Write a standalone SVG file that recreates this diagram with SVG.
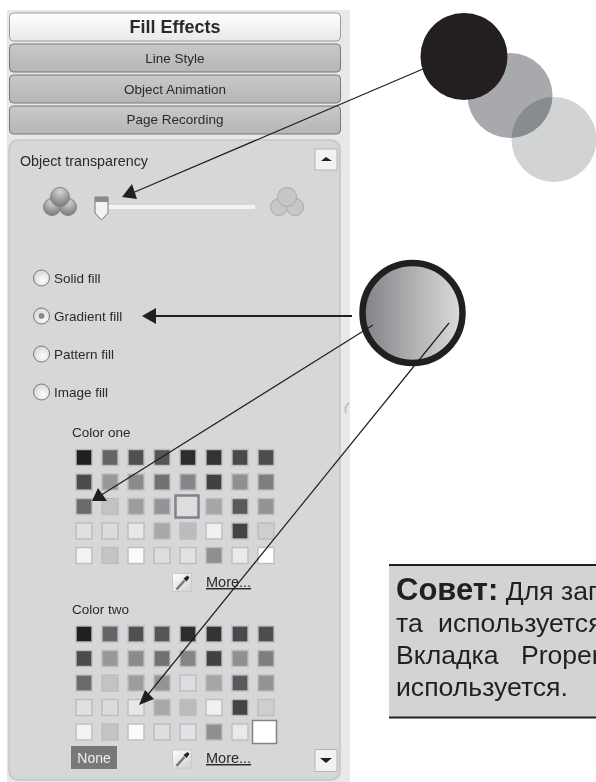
<svg xmlns="http://www.w3.org/2000/svg" width="596" height="782" viewBox="0 0 596 782">
<style>
.ui{font-family:"Liberation Sans",Arial,sans-serif;fill:#2a2a2a;font-size:13.500px}
.tab{text-anchor:middle}
.note{font-family:"Liberation Sans",Arial,sans-serif;fill:#231f20;font-size:26.600px}
.ln{stroke:#231f20;stroke-width:1.200;fill:none}
.radio{fill:url(#rg);stroke:#77787a;stroke-width:1}
.sw{stroke-width:1.400}
.hd{fill:#231f20}
.more{text-decoration:underline;font-size:14.500px}
</style>
<defs>
<linearGradient id="wb" x1="0" y1="0" x2="0" y2="1"><stop offset="0" stop-color="#fff"/><stop offset="1" stop-color="#e8e8e8"/></linearGradient>
<linearGradient id="tg" x1="0" y1="0" x2="0" y2="1"><stop offset="0" stop-color="#c8c9cb"/><stop offset="1" stop-color="#b4b5b7"/></linearGradient>
<linearGradient id="cg" x1="0" y1="0" x2="1" y2="0"><stop offset="0" stop-color="#808285"/><stop offset="1" stop-color="#dcddde"/></linearGradient>
<linearGradient id="pk" x1="0" y1="0" x2="1" y2="1"><stop offset="0" stop-color="#fff"/><stop offset="1" stop-color="#cfd0d2"/></linearGradient>
<radialGradient id="rg" cx=".6" cy=".65" r=".7"><stop offset="0" stop-color="#fff"/><stop offset="1" stop-color="#d2d3d5"/></radialGradient>
<radialGradient id="ball" cx=".5" cy=".2" r=".8"><stop offset="0" stop-color="#d5d6d8"/><stop offset="1" stop-color="#77787a"/></radialGradient>
<g id="ico"><circle cx="-8" cy="6" r="8.500"/><circle cx="8" cy="6" r="8.500"/><circle cx="0" cy="-4" r="9.500"/></g>
<g id="dropper"><rect x="0" y="0" width="19" height="18" fill="url(#pk)" stroke="#c8c9cb"/><path d="M4 16L12 7" stroke="#77787a" stroke-width="2.500"/><path d="M11 5L14 8L17 4L15 2z" fill="#231f20"/></g>
</defs>
<rect width="596" height="782" fill="#fff"/>
<g id="panel">
<rect x="7" y="10" width="343" height="772" fill="#e8e8e9"/>
<rect x="9" y="140" width="331" height="640" rx="9" fill="#d6d7d9" stroke="#c4c5c7" stroke-width="1.500"/>
<path d="M349 403A8 8 0 0 0 346 413" fill="none" stroke="#c0c1c3" stroke-width="2"/>
</g>
<g id="tab-fill"><rect x="9.500" y="13" width="331" height="28" rx="4" fill="url(#wb)" stroke="#9a9b9d"/><text class="ui tab" x="175" y="33" style="font-weight:700;font-size:18px">Fill Effects</text></g>
<g id="tab-line"><rect x="9.500" y="44" width="331" height="28" rx="4" fill="url(#tg)" stroke="#77787a"/><text class="ui tab" x="175" y="63">Line Style</text></g>
<g id="tab-anim"><rect x="9.500" y="75" width="331" height="28" rx="4" fill="url(#tg)" stroke="#77787a"/><text class="ui tab" x="175" y="94">Object Animation</text></g>
<g id="tab-page"><rect x="9.500" y="106" width="331" height="28" rx="4" fill="url(#tg)" stroke="#77787a"/><text class="ui tab" x="175" y="124">Page Recording</text></g>
<g id="transparency">
<text class="ui" x="20" y="166" style="font-size:14.300px">Object transparency</text>
<rect x="315" y="149" width="22" height="21" fill="#f2f2f2" stroke="#b5b6b8"/><path d="M321 161L326 157L332 161z" fill="#231f20"/>
<use href="#ico" x="60" y="201" fill="url(#ball)" stroke="#808285"/>
<use href="#ico" x="287" y="201" fill="#c6c7c9" stroke="#a8a9ab"/>
<rect x="104" y="205" width="151" height="4" fill="#f4f4f4"/>
<path d="M95 197H108V213L101.500 220L95 213z" fill="#f2f2f2" stroke="#77787a"/><rect x="95" y="197" width="13" height="5" fill="#8a8b8d"/>
</g>
<g id="radio-solid"><circle class="radio" cx="41.500" cy="278" r="8"/><text class="ui" x="54" y="283">Solid fill</text></g>
<g id="radio-gradient"><circle class="radio" cx="41.500" cy="316" r="8"/><circle cx="41.500" cy="316" r="3" fill="#8a8b8d"/><text class="ui" x="54" y="321">Gradient fill</text></g>
<g id="radio-pattern"><circle class="radio" cx="41.500" cy="354" r="8"/><text class="ui" x="54" y="359">Pattern fill</text></g>
<g id="radio-image"><circle class="radio" cx="41.500" cy="392" r="8"/><text class="ui" x="54" y="397">Image fill</text></g>
<g id="color-one">
<text class="ui" x="72" y="437" style="font-size:13.500px">Color one</text>
<g class="sw" stroke="#bcbdbf">
<rect x="76" y="449.500" width="16" height="16" fill="#231f20"/><rect x="102" y="449.500" width="16" height="16" fill="#646567"/><rect x="128" y="449.500" width="16" height="16" fill="#4f5052"/><rect x="154" y="449.500" width="16" height="16" fill="#545557"/><rect x="180" y="449.500" width="16" height="16" fill="#2e2c2d"/><rect x="206" y="449.500" width="16" height="16" fill="#333"/><rect x="232" y="449.500" width="16" height="16" fill="#48494b"/><rect x="258" y="449.500" width="16" height="16" fill="#4c4d4f"/>
<rect x="76" y="474" width="16" height="16" fill="#4a4b4d"/><rect x="102" y="474" width="16" height="16" fill="#97989a"/><rect x="128" y="474" width="16" height="16" fill="#8a8b8d"/><rect x="154" y="474" width="16" height="16" fill="#707173"/><rect x="180" y="474" width="16" height="16" fill="#858688"/><rect x="206" y="474" width="16" height="16" fill="#404142"/><rect x="232" y="474" width="16" height="16" fill="#8f9092"/><rect x="258" y="474" width="16" height="16" fill="#7d7e80"/>
<rect x="76" y="498.500" width="16" height="16" fill="#6a6b6d"/><rect x="102" y="498.500" width="16" height="16" fill="#c2c3c5"/><rect x="128" y="498.500" width="16" height="16" fill="#9c9d9f"/><rect x="154" y="498.500" width="16" height="16" fill="#939496"/><rect x="232" y="498.500" width="16" height="16" fill="#58595b"/><rect x="206" y="498.500" width="16" height="16" fill="#a4a6a8"/><rect x="258" y="498.500" width="16" height="16" fill="#929395"/>
<rect x="76" y="523" width="16" height="16" fill="#dfe0e1"/><rect x="102" y="523" width="16" height="16" fill="#dadbdc"/><rect x="128" y="523" width="16" height="16" fill="#e6e7e8"/><rect x="154" y="523" width="16" height="16" fill="#a7a8aa"/><rect x="180" y="523" width="16" height="16" fill="#bbbcbe"/><rect x="206" y="523" width="16" height="16" fill="#eff0f0"/><rect x="232" y="523" width="16" height="16" fill="#434445"/><rect x="258" y="523" width="16" height="16" fill="#cdcecf"/>
<rect x="76" y="547.500" width="16" height="16" fill="#f1f2f2"/><rect x="102" y="547.500" width="16" height="16" fill="#c3c4c6"/><rect x="128" y="547.500" width="16" height="16" fill="#fafafa"/><rect x="154" y="547.500" width="16" height="16" fill="#dcddde"/><rect x="180" y="547.500" width="16" height="16" fill="#e0e1e3"/><rect x="206" y="547.500" width="16" height="16" fill="#8e8f91"/><rect x="232" y="547.500" width="16" height="16" fill="#e9e9ea"/><rect x="258" y="547.500" width="16" height="16" fill="#fff"/>
</g>
<rect x="175.500" y="495.500" width="23" height="22" fill="#dcddde" stroke="#808285" stroke-width="2.500"/>
<use href="#dropper" x="172.500" y="573.500"/>
<text class="ui more" x="206" y="587">More...</text>
</g>
<g id="color-two">
<text class="ui" x="72" y="614" style="font-size:13.500px">Color two</text>
<g class="sw" stroke="#bcbdbf">
<rect x="76" y="626" width="16" height="16" fill="#231f20"/><rect x="102" y="626" width="16" height="16" fill="#646567"/><rect x="128" y="626" width="16" height="16" fill="#4f5052"/><rect x="154" y="626" width="16" height="16" fill="#545557"/><rect x="180" y="626" width="16" height="16" fill="#2e2c2d"/><rect x="206" y="626" width="16" height="16" fill="#333"/><rect x="232" y="626" width="16" height="16" fill="#48494b"/><rect x="258" y="626" width="16" height="16" fill="#4c4d4f"/>
<rect x="76" y="650.500" width="16" height="16" fill="#4a4b4d"/><rect x="102" y="650.500" width="16" height="16" fill="#97989a"/><rect x="128" y="650.500" width="16" height="16" fill="#8a8b8d"/><rect x="154" y="650.500" width="16" height="16" fill="#707173"/><rect x="180" y="650.500" width="16" height="16" fill="#858688"/><rect x="206" y="650.500" width="16" height="16" fill="#404142"/><rect x="232" y="650.500" width="16" height="16" fill="#8f9092"/><rect x="258" y="650.500" width="16" height="16" fill="#7d7e80"/>
<rect x="76" y="675" width="16" height="16" fill="#6a6b6d"/><rect x="102" y="675" width="16" height="16" fill="#c2c3c5"/><rect x="128" y="675" width="16" height="16" fill="#9c9d9f"/><rect x="154" y="675" width="16" height="16" fill="#939496"/><rect x="180" y="675" width="16" height="16" fill="#dcddde"/><rect x="206" y="675" width="16" height="16" fill="#a4a6a8"/><rect x="232" y="675" width="16" height="16" fill="#58595b"/><rect x="258" y="675" width="16" height="16" fill="#929395"/>
<rect x="76" y="699.500" width="16" height="16" fill="#dfe0e1"/><rect x="102" y="699.500" width="16" height="16" fill="#dadbdc"/><rect x="128" y="699.500" width="16" height="16" fill="#e6e7e8"/><rect x="154" y="699.500" width="16" height="16" fill="#a7a8aa"/><rect x="180" y="699.500" width="16" height="16" fill="#bbbcbe"/><rect x="206" y="699.500" width="16" height="16" fill="#eff0f0"/><rect x="232" y="699.500" width="16" height="16" fill="#434445"/><rect x="258" y="699.500" width="16" height="16" fill="#cdcecf"/>
<rect x="76" y="724" width="16" height="16" fill="#f1f2f2"/><rect x="102" y="724" width="16" height="16" fill="#c3c4c6"/><rect x="128" y="724" width="16" height="16" fill="#fafafa"/><rect x="154" y="724" width="16" height="16" fill="#dcddde"/><rect x="180" y="724" width="16" height="16" fill="#e0e1e3"/><rect x="206" y="724" width="16" height="16" fill="#8e8f91"/><rect x="232" y="724" width="16" height="16" fill="#e9e9ea"/>
</g>
<rect x="252.500" y="720.500" width="24" height="23" fill="#fff" stroke="#808285" stroke-width="1.500"/>
<g id="none-btn"><rect x="71" y="746" width="46" height="23" fill="#77787a"/><text x="94" y="763" text-anchor="middle" style="font-family:'Liberation Sans',Arial,sans-serif;font-size:14px;fill:#f0f0f0">None</text></g>
<use href="#dropper" x="172.500" y="750"/>
<text class="ui more" x="206" y="763">More...</text>
<rect x="315" y="749.500" width="22" height="22" fill="#f2f2f2" stroke="#b5b6b8"/><path d="M320 758H332L326 763z" fill="#231f20"/>
</g>
<g id="circles">
<circle cx="554" cy="139.500" r="42.500" fill="#d1d3d4"/>
<circle cx="510" cy="95.500" r="42.500" fill="#a7a9ac" style="mix-blend-mode:multiply"/>
<circle cx="464" cy="56.500" r="43.500" fill="#231f20"/>
</g>
<g id="gradient-circle"><circle cx="412.500" cy="313" r="50" fill="url(#cg)" stroke="#231f20" stroke-width="6.500"/></g>
<g id="connectors">
<line class="ln" x1="430" y1="66" x2="130" y2="194"/><path class="hd" d="M122 197L132 184L137 199z"/>
<line class="ln" x1="352" y1="316" x2="155" y2="316" style="stroke-width:2"/><path class="hd" d="M142 316L156 308V324z"/>
<line class="ln" x1="373" y1="325" x2="98" y2="497"/><path class="hd" d="M92 501L98 488L107 501z"/>
<line class="ln" x1="449" y1="323" x2="146" y2="697"/><path class="hd" d="M139 705L145 690L154 699z"/>
</g>
<g id="note">
<rect x="389" y="565" width="207" height="153" fill="#d1d3d4"/>
<rect x="389" y="564" width="207" height="2" fill="#231f20"/>
<rect x="389" y="716.500" width="207" height="2" fill="#231f20"/>
<text class="note" x="396" y="600"><tspan style="font-weight:700;font-size:31px">Совет:</tspan> Для зап</text>
<text class="note" x="396" y="632" word-spacing="8">та используется</text>
<text class="note" x="396" y="664" word-spacing="15">Вкладка Proper</text>
<text class="note" x="396" y="696">используется.</text>
</g>
</svg>
